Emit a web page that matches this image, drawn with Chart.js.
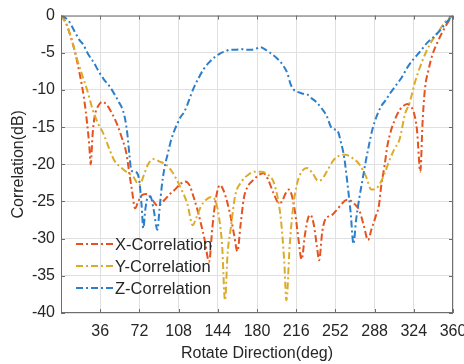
<!DOCTYPE html>
<html>
<head>
<meta charset="utf-8">
<title>Correlation vs Rotate Direction</title>
<script src="https://cdn.jsdelivr.net/npm/chart.js@4.4.1/dist/chart.umd.min.js"></script>
<style>
  html, body { margin: 0; padding: 0; background: #ffffff; }
  #wrap { width: 464px; height: 364px; }
</style>
</head>
<body>
<div id="wrap"><canvas id="c" width="464" height="364"></canvas></div>
<script>
// Rotation angle (deg) and correlation (dB) for each axis
const xCorrDeg = [0,4,8,13,17,21,24,26,27.3,29,31,34,38,42,47,52,56,60,63,65,68,71,74,78,80,84,89,95,100,104,110,114,118,122,126,129,132,136,139,142,146,150,155,159,162,165,168,171,176,182,186,190,195,200,203,206,209,212,215,218,221,224,227,229,232,235,237,240,243,246,249,254,258,262,266,270,274,278,282,285,289,292,294,297,300,303,306,311,315,318,321,324,327,330,332,334,338,341,346,350,355,360];
const xCorrDb = [0,-0.8,-2.4,-5,-7.7,-11,-14.5,-17.5,-20,-16,-13.5,-12.2,-11.6,-12,-13.2,-14.8,-16.5,-18.5,-21.5,-23.3,-25.9,-25,-24.2,-24,-24.1,-24.8,-25.6,-24.8,-24,-23.5,-22.6,-22.3,-22.8,-24.5,-26.5,-28.3,-30.2,-33.1,-28.5,-24.8,-22.8,-23.8,-26.5,-29.5,-31.7,-28,-24.5,-23.1,-22.2,-21.4,-21.2,-22,-23.8,-25.2,-25,-24,-23.4,-24.2,-26.5,-30,-32.8,-29.5,-27.2,-26.8,-28,-31,-32.9,-29,-27.3,-27,-26.8,-26,-25.3,-24.8,-24.9,-25.4,-26.2,-28.2,-30.2,-28.8,-27,-25.5,-23,-20.3,-17.3,-15.5,-14.2,-12.7,-12.1,-11.9,-12.2,-13,-15.5,-21,-14.5,-10.2,-7,-5.3,-3.5,-2.3,-1,0];

const yCorrDeg = [0,5,10,14,19,24,29,34,39,44,49,55,60,66,72,76,80,85,90,97,102,106,111,116,121,124,128,133,138,142,145,148,150.6,153,156,160,166,172,178,184,190,195,199,202,205,207,210,213,217,222,226,231,236,239,244,250,256,261,267,274,280,285,289,293,297,301,306,311,316,320,325,329,335,341,346,353,360];
const yCorrDb = [0,-1.2,-3.3,-5.5,-7.8,-10,-12.6,-14.5,-15.9,-17.8,-19.5,-20.4,-21,-21.6,-22.8,-21.5,-20,-19.3,-19.6,-20.1,-21,-22,-23.5,-25.3,-28.2,-27.3,-25.8,-24.8,-24.4,-25,-27,-31,-38.3,-32,-28.5,-24.2,-22.3,-21.4,-21,-21,-21.4,-22.3,-24.5,-27.5,-33,-38.3,-31,-26,-22.5,-20.8,-20.5,-21.2,-22.2,-22.1,-21,-19.5,-18.8,-18.7,-19.1,-20,-21.6,-23.4,-23.3,-22.6,-21.3,-19.7,-18,-16.6,-13.2,-11.8,-9,-7.2,-5,-3.3,-2.3,-0.8,0];

const zCorrDeg = [0,4,7,12,17,20,25,30,35,39,45,50,53,57,59,61,63,64.5,67,69.5,72,74,75.6,77.5,79.5,82,85,88.5,90.5,92.5,95,98,101,104,107,110,113,116,119,122,126,131,136,141,146,151,155,160,165,170,175,180,183,187,192,198,204,208,211,214,218,222,226,230,235,240,244,248,251,254,257,260,263,266,268.6,271,274,277,280,283,286,290,294,298,303,308,313,318,324,330,336,342,348,353,357,360];
const zCorrDb = [0,-0.3,-0.7,-2,-3.3,-3.8,-5.2,-6.3,-7.6,-8.5,-9.6,-10.8,-11.6,-12.8,-14,-16,-19,-20.8,-21,-21.1,-22.3,-25.5,-28.6,-26,-24.5,-24.3,-26,-28.8,-26,-23,-20.5,-18.6,-16.8,-15.5,-14.5,-13.6,-13,-12,-10.8,-9.7,-8.5,-7.2,-6.3,-5.6,-5.1,-4.8,-4.6,-4.6,-4.5,-4.6,-4.6,-4.4,-4.25,-4.5,-5,-5.7,-6.7,-7.8,-9.3,-10,-10.3,-10.5,-10.6,-11.1,-11.7,-12.6,-13.5,-15,-15.3,-15.5,-17,-19,-22.5,-26.5,-30.7,-27.5,-24.5,-22,-19.5,-17.3,-15.3,-13.5,-12.2,-11.4,-10.3,-9.3,-8.3,-7,-5.8,-4.8,-3.7,-2.9,-2,-1.1,-0.4,0];

const seriesNames = ['X-Correlation', 'Y-Correlation', 'Z-Correlation'];
const seriesColors = ['#E5531F', '#DDAB2A', '#2C7FCB'];
const xTickValues = [36, 72, 108, 144, 180, 216, 252, 288, 324, 360];
const yTickValues = [0, -5, -10, -15, -20, -25, -30, -35, -40];

const dashDot = [7, 3, 2, 3];
const FONT = '"Liberation Sans", Arial, Helvetica, sans-serif';
const TEXT = '#262626';

function toPoints(deg, db) {
  return deg.map((d, i) => ({ x: d, y: db[i] }));
}

function makeSet(idx, deg, db, order) {
  return {
    label: seriesNames[idx],
    data: toPoints(deg, db),
    borderColor: seriesColors[idx],
    backgroundColor: seriesColors[idx],
    borderWidth: 2,
    borderDash: dashDot,
    pointRadius: 0,
    fill: false,
    cubicInterpolationMode: 'monotone',
    order: order
  };
}

// Box around the plot, inward tick marks and the in-plot legend
const framePlugin = {
  id: 'frame',
  afterDatasetsDraw(chart) {
    const { ctx, chartArea: a, scales } = chart;
    ctx.save();
    ctx.strokeStyle = '#6e6e6e';
    ctx.lineWidth = 1;
    ctx.setLineDash([]);
    ctx.strokeRect(a.left + 0.5, a.top + 0.5, a.right - a.left - 1, a.bottom - a.top - 1);
    const tl = 4;
    ctx.beginPath();
    xTickValues.forEach(v => {
      const px = Math.round(scales.x.getPixelForValue(v)) + 0.5;
      ctx.moveTo(px, a.bottom); ctx.lineTo(px, a.bottom - tl);
      ctx.moveTo(px, a.top); ctx.lineTo(px, a.top + tl);
    });
    yTickValues.forEach(v => {
      const py = Math.round(scales.y.getPixelForValue(v)) + 0.5;
      ctx.moveTo(a.left, py); ctx.lineTo(a.left + tl, py);
      ctx.moveTo(a.right, py); ctx.lineTo(a.right - tl, py);
    });
    ctx.stroke();

    // legend
    const x0 = a.left + 15, x1 = a.left + 52;
    const rowY = [a.bottom - 69, a.bottom - 47, a.bottom - 25];
    ctx.font = '16.5px ' + FONT;
    ctx.textBaseline = 'middle';
    ctx.textAlign = 'left';
    seriesNames.forEach((name, i) => {
      ctx.strokeStyle = seriesColors[i];
      ctx.lineWidth = 2;
      ctx.setLineDash(dashDot);
      ctx.beginPath();
      ctx.moveTo(x0, rowY[i]);
      ctx.lineTo(x1, rowY[i]);
      ctx.stroke();
      ctx.setLineDash([]);
      ctx.fillStyle = TEXT;
      ctx.fillText(name, x1 + 2, rowY[i] + 1);
    });
    ctx.restore();
  }
};

new Chart(document.getElementById('c'), {
  type: 'line',
  data: {
    datasets: [
      makeSet(0, xCorrDeg, xCorrDb, 3),
      makeSet(1, yCorrDeg, yCorrDb, 2),
      makeSet(2, zCorrDeg, zCorrDb, 1)
    ]
  },
  options: {
    responsive: false,
    animation: false,
    layout: { padding: { left: 0, right: 11, top: 12, bottom: 0 } },
    plugins: { legend: { display: false }, tooltip: { enabled: false } },
    scales: {
      x: {
        type: 'linear',
        min: 0,
        max: 360,
        afterBuildTicks(scale) {
          scale.ticks = [0].concat(xTickValues).map(v => ({ value: v }));
        },
        afterFit(scale) {
          scale.height = 51;
          scale.paddingLeft = 0;
          scale.paddingRight = 0;
        },
        ticks: {
          autoSkip: false,
          maxRotation: 0,
          padding: 9,
          color: TEXT,
          font: { family: FONT, size: 16 },
          callback: v => (v === 0 ? '' : String(v))
        },
        grid: { color: '#e0e0e0', lineWidth: 1, drawTicks: false },
        border: { display: false },
        title: {
          display: true,
          text: 'Rotate Direction(deg)',
          color: TEXT,
          font: { family: FONT, size: 16 },
          padding: { top: 0, bottom: 1 }
        }
      },
      y: {
        type: 'linear',
        min: -40,
        max: 0,
        afterBuildTicks(scale) {
          scale.ticks = yTickValues.slice().reverse().map(v => ({ value: v }));
        },
        afterFit(scale) {
          scale.width = 61;
        },
        ticks: {
          padding: 6,
          color: TEXT,
          font: { family: FONT, size: 16 }
        },
        grid: { color: '#e0e0e0', lineWidth: 1, drawTicks: false },
        border: { display: false },
        title: {
          display: true,
          text: 'Correlation(dB)',
          color: TEXT,
          font: { family: FONT, size: 16 },
          padding: { top: 9, bottom: 0 }
        }
      }
    }
  },
  plugins: [framePlugin]
});
</script>
</body>
</html>
